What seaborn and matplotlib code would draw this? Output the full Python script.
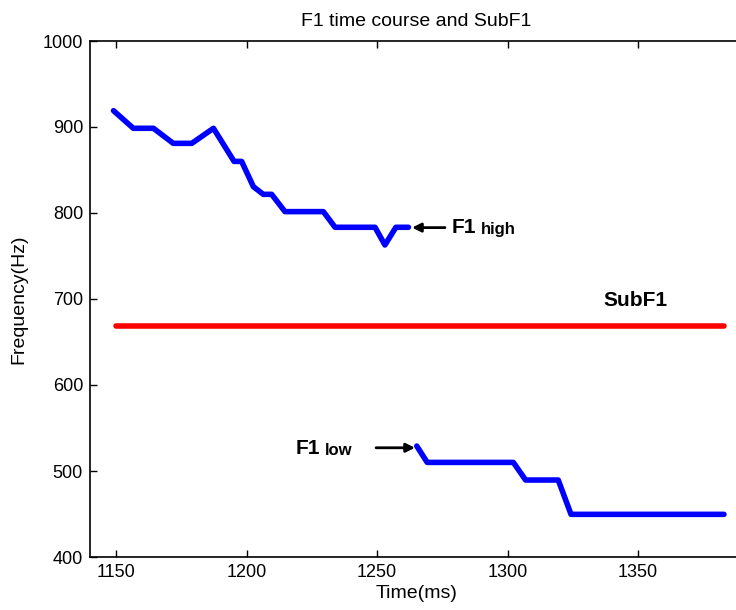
import pandas as pd
import matplotlib
matplotlib.use("Agg")
import matplotlib.pyplot as plt
import seaborn as sns

# F1 high trajectory
high_t = [1149, 1156.6, 1164.3, 1171.9, 1179, 1187.3, 1195.2, 1198.1, 1202.6,
          1206.4, 1209.6, 1214.7, 1229.4, 1233.9, 1249.2, 1253, 1257.2, 1262]
high_f = [919, 898.5, 898.5, 881, 881, 898.5, 860, 860, 830.6,
          821.7, 821.7, 801.6, 801.6, 783.4, 783.4, 762.8, 783.4, 783.4]

# F1 low trajectory
low_t = [1265.2, 1269.2, 1302.2, 1306.9, 1319.4, 1324.3, 1382.9]
low_f = [529, 510, 510, 489.5, 489.5, 449.6, 449.6]

# SubF1 constant line
sub_t = [1150, 1383]
sub_f = [669, 669]

sns.set_style("ticks")
plt.rcParams['font.family'] = ['Liberation Sans', 'DejaVu Sans']
plt.rcParams['text.color'] = 'black'
plt.rcParams['axes.labelcolor'] = 'black'
plt.rcParams['xtick.color'] = 'black'
plt.rcParams['ytick.color'] = 'black'

fig = plt.figure(figsize=(7.36, 6.10), dpi=100)
ax = fig.add_axes([90 / 736, 1 - 557 / 610, 652.5 / 736, 516 / 610])

df_high = pd.DataFrame({"t": high_t, "f": high_f})
df_low = pd.DataFrame({"t": low_t, "f": low_f})
df_sub = pd.DataFrame({"t": sub_t, "f": sub_f})

line_kw = dict(solid_capstyle="round", solid_joinstyle="round")
sns.lineplot(data=df_high, x="t", y="f", ax=ax, color="#0000ff", lw=4, sort=False, **line_kw)
sns.lineplot(data=df_low, x="t", y="f", ax=ax, color="#0000ff", lw=4, sort=False, **line_kw)
sns.lineplot(data=df_sub, x="t", y="f", ax=ax, color="#ff0000", lw=4, sort=False, **line_kw)

ax.set_xlim(1140, 1390)
ax.set_ylim(400, 1000)
ax.set_xticks([1150, 1200, 1250, 1300, 1350])
ax.set_yticks([400, 500, 600, 700, 800, 900, 1000])
ax.tick_params(direction="in", top=True, right=True, labelsize=13, length=5, width=1, pad=5)
for s in ax.spines.values():
    s.set_linewidth(1.2)
    s.set_color("black")

ax.set_title("F1 time course and SubF1", fontsize=14, pad=11)
ax.set_xlabel("Time(ms)", fontsize=14, labelpad=3)
ax.set_ylabel("Frequency(Hz)", fontsize=14, labelpad=11)

# annotations
arrow = dict(arrowstyle="-|>", color="black", lw=2, mutation_scale=13, shrinkA=0, shrinkB=0)
ax.annotate("", xy=(1263.4, 783), xytext=(1276, 783), arrowprops=arrow)
t1 = ax.text(1278.6, 783, "F1", fontsize=15, fontweight="bold", ha="left", va="center")
ax.annotate("high", xy=(1, 0), xycoords=t1, xytext=(3, 0), textcoords="offset points",
            fontsize=12, fontweight="bold", ha="left", va="bottom")

ax.annotate("", xy=(1264.5, 527), xytext=(1249.6, 527), arrowprops=arrow)
t2 = ax.text(1218.9, 526, "F1", fontsize=15, fontweight="bold", ha="left", va="center")
ax.annotate("low", xy=(1, 0), xycoords=t2, xytext=(3, 0), textcoords="offset points",
            fontsize=12, fontweight="bold", ha="left", va="bottom")

ax.text(1336.6, 698, "SubF1", fontsize=15, fontweight="bold", ha="left", va="center")

fig.savefig("out.png", dpi=100)
